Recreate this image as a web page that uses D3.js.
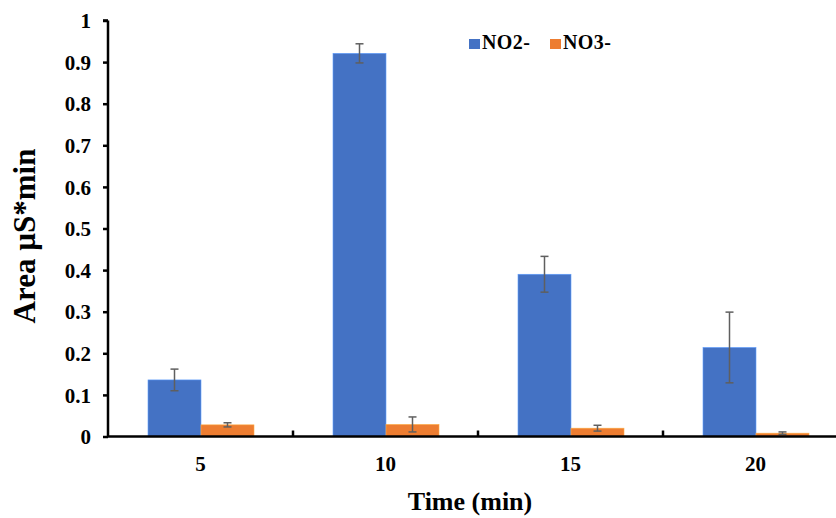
<!DOCTYPE html>
<html>
<head>
<meta charset="utf-8">
<script src="https://cdn.jsdelivr.net/npm/d3@7"></script>
<style>
    body { margin: 0; background: #fff; }
    text { font-family: "Liberation Serif", "Times New Roman", serif; font-weight: bold; fill: #000; }
</style>
</head>
<body>
<svg id="chart" width="836" height="518"></svg>
<script>
// chart values
const times = ['5', '10', '15', '20']
const seriesNames = ['NO2-', 'NO3-']
const no2 = [0.136, 0.921, 0.390, 0.214]
const no2Err = [0.026, 0.023, 0.043, 0.085]
const no3 = [0.028, 0.029, 0.020, 0.008]
const no3Err = [0.005, 0.018, 0.007, 0.003]
const yTicks = [0, 0.1, 0.2, 0.3, 0.4, 0.5, 0.6, 0.7, 0.8, 0.9, 1]

const COLORS = { 'NO2-': '#4472C4', 'NO3-': '#ED7D31' }
const ERR_COLOR = '#5f5f5f'
const AXIS_W = 2.5

const svg = d3.select('#chart')

const x = d3.scaleBand().domain(times).range([108, 848])
const xInner = d3.scaleBand().domain(seriesNames).range([40, x.bandwidth() - 39])
const y = d3.scaleLinear().domain([0, 1]).range([436.5, 20.5])

const rows = times.map((t, i) => ({
    t,
    vals: [
        { s: 'NO2-', v: no2[i], e: no2Err[i] },
        { s: 'NO3-', v: no3[i], e: no3Err[i] }
    ]
}))

// bars
const groups = svg.append('g').selectAll('g')
    .data(rows)
    .join('g')
    .attr('transform', d => `translate(${x(d.t)},0)`)

groups.selectAll('rect')
    .data(d => d.vals)
    .join('rect')
    .attr('x', d => xInner(d.s))
    .attr('y', d => y(d.v))
    .attr('width', xInner.bandwidth())
    .attr('height', d => y(0) - y(d.v))
    .attr('fill', d => COLORS[d.s])
    .attr('stroke', d => d3.color(COLORS[d.s]).brighter(0.9))
    .attr('stroke-width', 0.6)

// error bars
const errs = groups.selectAll('g.err')
    .data(d => d.vals)
    .join('g')
    .attr('class', 'err')
    .attr('stroke', ERR_COLOR)
    .attr('stroke-width', 1.5)
    .attr('transform', d => `translate(${xInner(d.s) + xInner.bandwidth() / 2},0)`)

errs.append('line')
    .attr('y1', d => y(d.v + d.e))
    .attr('y2', d => y(d.v - d.e))
errs.append('line')
    .attr('x1', -4).attr('x2', 4)
    .attr('y1', d => y(d.v + d.e)).attr('y2', d => y(d.v + d.e))
errs.append('line')
    .attr('x1', -4).attr('x2', 4)
    .attr('y1', d => y(d.v - d.e)).attr('y2', d => y(d.v - d.e))

// y axis
const yAxis = svg.append('g')
    .attr('transform', 'translate(108,0)')
    .call(d3.axisLeft(y).tickValues(yTicks).tickSize(5).tickPadding(12).tickFormat(d3.format('')))
yAxis.select('.domain').attr('stroke', '#000').attr('stroke-width', AXIS_W)
    .attr('d', `M0,${y(1)}H-5M0,${y(1)}V${y(0)}`)
yAxis.selectAll('.tick line').attr('stroke', '#000').attr('stroke-width', AXIS_W)
yAxis.selectAll('.tick text').attr('font-size', 21).attr('dy', '0.34em')

// x axis
const xAxis = svg.append('g')
    .attr('transform', `translate(0,${y(0)})`)
    .call(d3.axisBottom(x).tickSize(0).tickPadding(20))
xAxis.select('.domain').attr('stroke', '#000').attr('stroke-width', AXIS_W)
    .attr('d', `M108,0H848`)
xAxis.selectAll('.tick text').attr('font-size', 21)

// category separators, pointing up
svg.append('g').selectAll('line')
    .data(times.slice(1))
    .join('line')
    .attr('x1', d => x(d)).attr('x2', d => x(d))
    .attr('y1', y(0)).attr('y2', y(0) - 6)
    .attr('stroke', '#000')
    .attr('stroke-width', AXIS_W)

// axis titles
svg.append('text')
    .attr('x', 470).attr('y', 510)
    .attr('text-anchor', 'middle')
    .attr('font-size', 26)
    .text('Time (min)')

svg.append('text')
    .attr('transform', 'translate(35,236) rotate(-90)')
    .attr('text-anchor', 'middle')
    .attr('font-size', 31)
    .text('Area µS*min')

// legend
const legend = svg.append('g').selectAll('g')
    .data(seriesNames)
    .join('g')
    .attr('transform', (d, i) => `translate(${469 + i * 81},38)`)
legend.append('rect')
    .attr('width', 11).attr('height', 10).attr('y', 1)
    .attr('fill', d => COLORS[d])
legend.append('text')
    .attr('x', 13).attr('y', 11)
    .attr('font-size', 20)
    .attr('letter-spacing', 0.4)
    .text(d => d)
</script>
</body>
</html>
